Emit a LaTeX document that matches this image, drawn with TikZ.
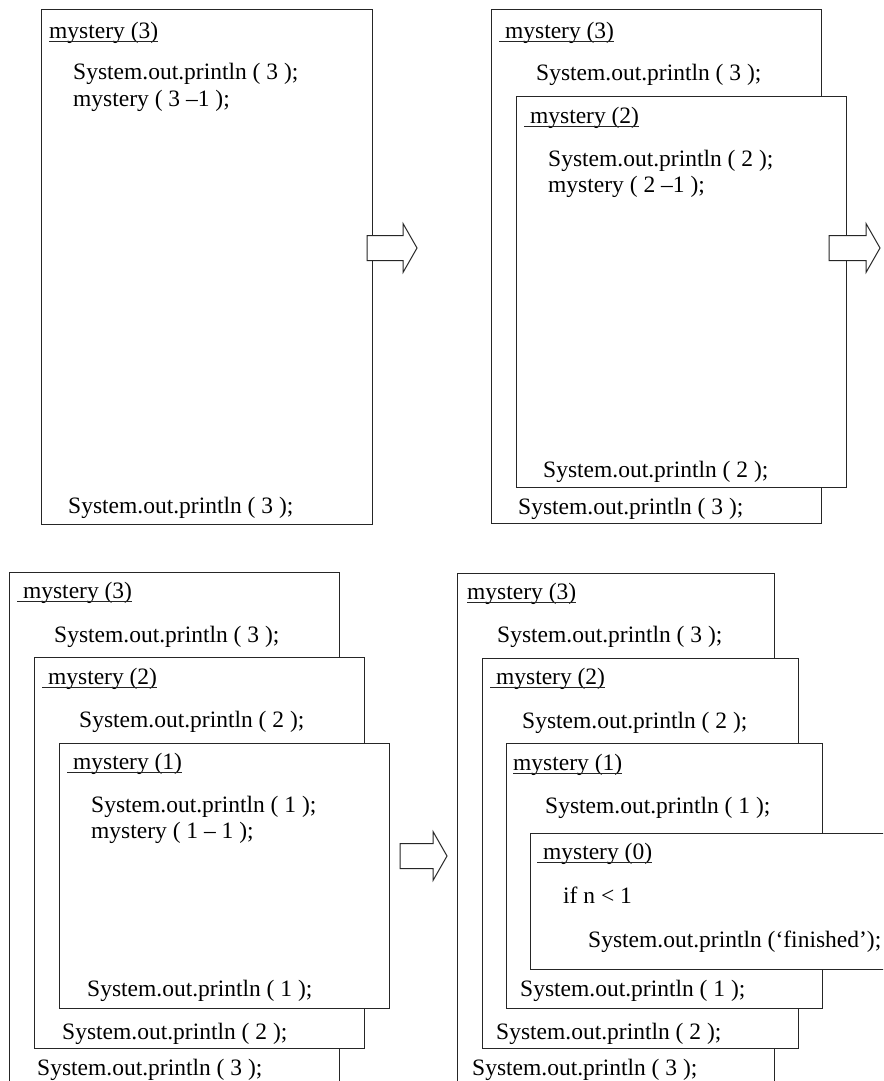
\documentclass[tikz,border=0pt]{standalone}
\usepackage{fontspec}
\setmainfont{Liberation Serif}
\newcommand{\callarrow}[3]{% #1 left x, #2 centre y, #3 shaft length
  \draw[bigarrow] (#1,#2-12.5) -- ++(#3,0) -- ++(0,-12) -- ++(14,24.5)
    -- ++(-14,24.5) -- ++(0,-12) -- ++(-#3,0) -- cycle;}
\begin{document}
\begin{tikzpicture}[x=1pt,y=-1pt,
  frame/.style={draw=black!85,line width=1pt,fill=white},
  code/.style={anchor=base west,inner sep=0pt,font=\fontsize{23.5}{28}\selectfont},
  uline/.style={draw=black!85,line width=0.9pt},
  bigarrow/.style={draw=black!85,line width=1pt,fill=white,line join=miter}]
\useasboundingbox (0,0) rectangle (883,1081);
\clip (0,0) rectangle (883,1081);

% first step
\draw[frame] (41,10) rectangle (372,524);
\node[code] (tA3) at (49,38) {mystery (3)\ };
\node[code] (pA3) at (73,80) {System.out.println ( 3 );};
\node[code] (cA3) at (73,106) {mystery ( 3 –1 );};
\node[code] (eA3) at (68,513) {System.out.println ( 3 );};

% second step
\draw[frame] (491,10) rectangle (821,523);
\node[code] (tB3) at (499,38) {\ mystery (3)};
\node[code] (pB3) at (536,81) {System.out.println ( 3 );};
\draw[frame] (516,96) rectangle (846,487);
\node[code] (tB2) at (524,123) {\ mystery (2)};
\node[code] (pB2) at (548,166) {System.out.println ( 2 );};
\node[code] (cB2) at (548,192) {mystery ( 2 –1 );};
\node[code] (eB2) at (543,477) {System.out.println ( 2 );};
\node[code] (eB3) at (518,514) {System.out.println ( 3 );};

% third step
\draw[frame] (9,572) rectangle (339,1100);
\node[code] (tC3) at (17,598) {\ mystery (3)};
\node[code] (pC3) at (54,642) {System.out.println ( 3 );};
\draw[frame] (34,657) rectangle (364,1048);
\node[code] (tC2) at (42,684) {\ mystery (2)};
\node[code] (pC2) at (79,727) {System.out.println ( 2 );};
\draw[frame] (59,743) rectangle (389,1008);
\node[code] (tC1) at (67,769) {\ mystery (1)};
\node[code] (pC1) at (91,812) {System.out.println ( 1 );};
\node[code] (cC1) at (91,838) {mystery ( 1 – 1 );};
\node[code] (eC1) at (87,996) {System.out.println ( 1 );};
\node[code] (eC2) at (62,1039) {System.out.println ( 2 );};
\node[code] (eC3) at (37,1075) {System.out.println ( 3 );};

% fourth step
\draw[frame] (457,573) rectangle (774,1100);
\node[code] (tD3) at (467,599) {mystery (3)};
\node[code] (pD3) at (497,642) {System.out.println ( 3 );};
\draw[frame] (482,658) rectangle (798,1048);
\node[code] (tD2) at (490,684) {\ mystery (2)};
\node[code] (pD2) at (522,728) {System.out.println ( 2 );};
\draw[frame] (506,743) rectangle (822,1008);
\node[code] (tD1) at (513,770) {mystery (1)};
\node[code] (pD1) at (545,813) {System.out.println ( 1 );};
\draw[frame] (530,833) rectangle (900,969);
\node[code] (tD0) at (537,859) {\ mystery (0)};
\node[code] (iD0) at (563,903) {if n < 1};
\node[code] (pD0) at (588,947) {System.out.println (‘finished’);};
\node[code] (eD1) at (520,996) {System.out.println ( 1 );};
\node[code] (eD2) at (496,1039) {System.out.println ( 2 );};
\node[code] (eD3) at (472,1075) {System.out.println ( 3 );};

% underlined headers
\foreach \t in {tA3,tB3,tB2,tC3,tC2,tC1,tD3,tD2,tD1,tD0}
  \draw[uline] ([yshift=-3pt]\t.base west) -- ([yshift=-3pt]\t.base east);

% arrows between steps
\callarrow{367}{248}{36}
\callarrow{829}{248}{37}
\callarrow{400}{856}{33}
\end{tikzpicture}
\end{document}
